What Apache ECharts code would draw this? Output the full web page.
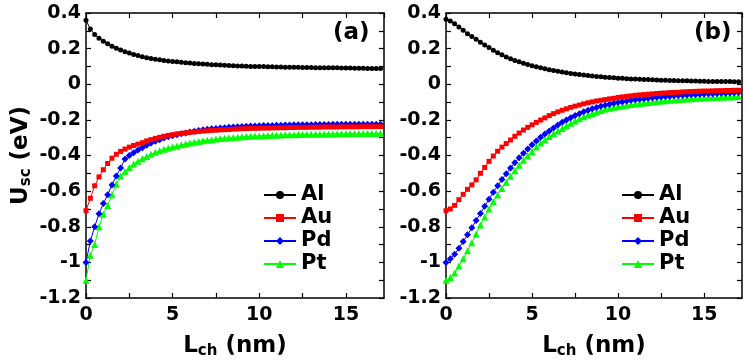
<!DOCTYPE html>
<html>
<head>
<meta charset="utf-8">
<script src="https://cdn.jsdelivr.net/npm/echarts@6/dist/echarts.min.js"></script>
<style>
  html, body { margin: 0; padding: 0; background: #fff; }
  #chart { width: 747px; height: 364px; }
</style>
</head>
<body>
<div id="chart"></div>
<script>
// channel length samples (nm)
const xs = [
  0, 0.25, 0.5, 0.75, 1, 1.25, 1.5, 1.75,
  2, 2.25, 2.5, 2.75, 3, 3.25, 3.5, 3.75,
  4, 4.25, 4.5, 4.75, 5, 5.25, 5.5, 5.75,
  6, 6.25, 6.5, 6.75, 7, 7.25, 7.5, 7.75,
  8, 8.25, 8.5, 8.75, 9, 9.25, 9.5, 9.75,
  10, 10.25, 10.5, 10.75, 11, 11.25, 11.5, 11.75,
  12, 12.25, 12.5, 12.75, 13, 13.25, 13.5, 13.75,
  14, 14.25, 14.5, 14.75, 15, 15.25, 15.5, 15.75,
  16, 16.25, 16.5, 16.75, 17
];

// panel (a)
const alA = [
  0.36, 0.31, 0.28, 0.258, 0.242, 0.227, 0.214, 0.202,
  0.192, 0.183, 0.175, 0.167, 0.161, 0.155, 0.149, 0.145,
  0.141, 0.137, 0.134, 0.131, 0.128, 0.126, 0.124, 0.121,
  0.119, 0.117, 0.115, 0.113, 0.112, 0.110, 0.109, 0.108,
  0.106, 0.105, 0.104, 0.103, 0.102, 0.101, 0.100, 0.100,
  0.099, 0.099, 0.098, 0.098, 0.097, 0.097, 0.096, 0.096,
  0.095, 0.095, 0.094, 0.094, 0.094, 0.093, 0.093, 0.093,
  0.092, 0.092, 0.092, 0.091, 0.091, 0.091, 0.090, 0.090,
  0.090, 0.089, 0.089, 0.089, 0.088
];
const auA = [
  -0.71, -0.64, -0.57, -0.52, -0.48, -0.445, -0.415, -0.393,
  -0.377, -0.364, -0.353, -0.344, -0.336, -0.328, -0.318, -0.311,
  -0.304, -0.298, -0.292, -0.287, -0.283, -0.279, -0.276, -0.273,
  -0.270, -0.268, -0.265, -0.263, -0.261, -0.259, -0.258, -0.256,
  -0.255, -0.254, -0.252, -0.251, -0.250, -0.249, -0.248, -0.248,
  -0.247, -0.246, -0.246, -0.245, -0.245, -0.244, -0.244, -0.243,
  -0.243, -0.242, -0.242, -0.242, -0.241, -0.241, -0.241, -0.240,
  -0.240, -0.240, -0.240, -0.239, -0.239, -0.239, -0.239, -0.239,
  -0.238, -0.238, -0.238, -0.238, -0.238
];
const pdA = [
  -1.0, -0.88, -0.80, -0.727, -0.67, -0.62, -0.565, -0.515,
  -0.47, -0.42, -0.40, -0.384, -0.369, -0.356, -0.343, -0.330,
  -0.320, -0.311, -0.302, -0.295, -0.289, -0.283, -0.278, -0.273,
  -0.268, -0.264, -0.260, -0.256, -0.253, -0.250, -0.248, -0.246,
  -0.244, -0.242, -0.240, -0.239, -0.237, -0.236, -0.235, -0.234,
  -0.233, -0.232, -0.232, -0.231, -0.230, -0.230, -0.229, -0.229,
  -0.228, -0.228, -0.227, -0.227, -0.227, -0.226, -0.226, -0.226,
  -0.226, -0.225, -0.225, -0.225, -0.225, -0.225, -0.224, -0.224,
  -0.224, -0.224, -0.224, -0.224, -0.224
];
const ptA = [
  -1.10, -0.96, -0.90, -0.80, -0.73, -0.68, -0.62, -0.56,
  -0.515, -0.49, -0.467, -0.448, -0.432, -0.418, -0.405, -0.393,
  -0.382, -0.373, -0.365, -0.358, -0.352, -0.346, -0.340, -0.335,
  -0.330, -0.325, -0.321, -0.317, -0.314, -0.311, -0.308, -0.305,
  -0.303, -0.301, -0.299, -0.297, -0.295, -0.294, -0.292, -0.291,
  -0.290, -0.289, -0.288, -0.287, -0.286, -0.285, -0.284, -0.284,
  -0.283, -0.282, -0.282, -0.281, -0.281, -0.280, -0.280, -0.279,
  -0.279, -0.279, -0.278, -0.278, -0.278, -0.277, -0.277, -0.277,
  -0.276, -0.276, -0.276, -0.276, -0.275
];

// panel (b)
const alB = [
  0.365, 0.355, 0.34, 0.322, 0.303, 0.284, 0.268, 0.252,
  0.236, 0.221, 0.206, 0.191, 0.177, 0.165, 0.153, 0.143,
  0.134, 0.126, 0.118, 0.111, 0.104, 0.098, 0.092, 0.087,
  0.082, 0.077, 0.073, 0.069, 0.065, 0.061, 0.058, 0.055,
  0.052, 0.049, 0.046, 0.044, 0.042, 0.040, 0.038, 0.036,
  0.034, 0.033, 0.031, 0.030, 0.029, 0.028, 0.027, 0.026,
  0.025, 0.024, 0.023, 0.022, 0.021, 0.021, 0.020, 0.019,
  0.019, 0.018, 0.018, 0.017, 0.017, 0.016, 0.016, 0.016,
  0.015, 0.015, 0.015, 0.014, 0.014
];
const auB = [
  -0.71, -0.70, -0.68, -0.648, -0.618, -0.59, -0.565, -0.537,
  -0.50, -0.467, -0.433, -0.403, -0.376, -0.353, -0.333, -0.313,
  -0.292, -0.274, -0.257, -0.242, -0.228, -0.214, -0.201, -0.189,
  -0.176, -0.165, -0.155, -0.146, -0.138, -0.130, -0.123, -0.117,
  -0.110, -0.104, -0.099, -0.094, -0.090, -0.086, -0.082, -0.079,
  -0.074, -0.071, -0.068, -0.065, -0.062, -0.060, -0.058, -0.056,
  -0.054, -0.052, -0.050, -0.049, -0.047, -0.046, -0.045, -0.043,
  -0.042, -0.041, -0.040, -0.039, -0.038, -0.038, -0.037, -0.036,
  -0.036, -0.035, -0.035, -0.034, -0.034
];
const pdB = [
  -1.0, -0.98, -0.955, -0.92, -0.883, -0.845, -0.805, -0.765,
  -0.725, -0.685, -0.645, -0.607, -0.57, -0.535, -0.502, -0.47,
  -0.44, -0.413, -0.387, -0.363, -0.339, -0.318, -0.297, -0.279,
  -0.262, -0.245, -0.229, -0.214, -0.200, -0.188, -0.176, -0.165,
  -0.155, -0.146, -0.138, -0.131, -0.124, -0.118, -0.112, -0.107,
  -0.102, -0.098, -0.094, -0.090, -0.087, -0.084, -0.081, -0.078,
  -0.076, -0.073, -0.071, -0.069, -0.067, -0.065, -0.063, -0.062,
  -0.060, -0.059, -0.057, -0.056, -0.055, -0.054, -0.053, -0.052,
  -0.051, -0.050, -0.049, -0.048, -0.047
];
const ptB = [
  -1.10, -1.085, -1.06, -1.02, -0.98, -0.935, -0.89, -0.84,
  -0.79, -0.745, -0.70, -0.66, -0.622, -0.585, -0.55, -0.517,
  -0.485, -0.455, -0.427, -0.401, -0.377, -0.352, -0.330, -0.311,
  -0.294, -0.278, -0.263, -0.249, -0.233, -0.219, -0.206, -0.194,
  -0.183, -0.173, -0.164, -0.156, -0.148, -0.141, -0.135, -0.129,
  -0.126, -0.122, -0.118, -0.114, -0.111, -0.108, -0.105, -0.102,
  -0.099, -0.097, -0.094, -0.092, -0.090, -0.088, -0.086, -0.084,
  -0.083, -0.081, -0.080, -0.078, -0.077, -0.076, -0.075, -0.074,
  -0.073, -0.072, -0.071, -0.070, -0.069
];

const metals = ['Al', 'Au', 'Pd', 'Pt'];
const colors = ['#000000', '#ff0000', '#0000ff', '#00ff00'];
const symbols = ['circle', 'rect', 'diamond', 'triangle'];
const symbolSizes = [5, 5, 7, 7];
const xTickLabels = ['0', '5', '10', '15'];
const yTickLabels = ['0.4', '0.2', '0', '-0.2', '-0.4', '-0.6', '-0.8', '-1', '-1.2'];

const FONT = 'DejaVu Sans';
const myChart = echarts.init(document.getElementById('chart'));

function pairs(ys) {
  return xs.map((x, i) => [x, ys[i]]);
}

// 标题里的下标
const nameRich = {
  m: { fontFamily: FONT, fontWeight: 'bold', fontSize: 23, lineHeight: 24, verticalAlign: 'top', color: '#000' },
  s: { fontFamily: FONT, fontWeight: 'bold', fontSize: 15, lineHeight: 15, padding: [14, 0, 0, 0], verticalAlign: 'bottom', color: '#000' }
};

function xAxisCfg(g, pos) {
  let bottom = pos === 'bottom';
  return {
    type: 'value', gridIndex: g, position: pos,
    min: 0, max: 17.2, interval: 2.5,
    axisLine: { show: true, onZero: false, lineStyle: { color: '#000', width: 1.5 } },
    axisTick: { show: true, inside: true, length: 5, lineStyle: { color: '#000', width: 1.2 } },
    splitLine: { show: false },
    axisLabel: {
      show: bottom, margin: 8, color: '#000',
      fontFamily: FONT, fontWeight: 'bold', fontSize: 19,
      showMaxLabel: false,
      formatter: v => xTickLabels.includes(String(v)) ? String(v) : ''
    },
    name: bottom ? '{m|L}{s|ch}{m| (nm)}' : '',
    nameLocation: 'middle', nameGap: 27,
    nameTextStyle: { rich: nameRich }
  };
}

function yAxisCfg(g, pos) {
  let left = pos === 'left';
  return {
    type: 'value', gridIndex: g, position: pos,
    min: -1.2, max: 0.4, interval: 0.1,
    axisLine: { show: true, onZero: false, lineStyle: { color: '#000', width: 1.5 } },
    axisTick: { show: true, inside: true, length: 5, lineStyle: { color: '#000', width: 1.2 } },
    splitLine: { show: false },
    axisLabel: {
      show: left, margin: 5, color: '#000',
      fontFamily: FONT, fontWeight: 'bold', fontSize: 19,
      formatter: v => {
        let s = String(Math.round(v * 10) / 10);
        return yTickLabels.includes(s) ? s : '';
      }
    },
    name: (left && g === 0) ? '{m|U}{s|sc}{m| (eV)}' : '',
    nameLocation: 'middle', nameGap: 52, nameRotate: 90,
    nameTextStyle: { rich: nameRich }
  };
}

function makeSeries(g, ysList) {
  return ysList.map((ys, k) => ({
    name: metals[k],
    type: 'line',
    xAxisIndex: g * 2,
    yAxisIndex: g * 2,
    data: pairs(ys),
    showSymbol: true,
    symbol: symbols[k],
    symbolSize: symbolSizes[k],
    itemStyle: { color: colors[k] },
    lineStyle: { color: colors[k], width: 1 },
    clip: true,
    z: 3 + (3 - k)
  }));
}

function legendCfg(left) {
  return {
    data: metals,
    orient: 'vertical',
    left: left, top: 179,
    itemWidth: 32, itemHeight: 10, itemGap: 1,
    textStyle: { fontFamily: FONT, fontWeight: 'bold', fontSize: 21, lineHeight: 22, color: '#000' },
    selectedMode: false
  };
}

let option = {
  animation: false,
  backgroundColor: '#fff',
  grid: [
    { left: 86, top: 13, width: 298, height: 285 },
    { left: 446, top: 13, width: 296, height: 285 }
  ],
  xAxis: [xAxisCfg(0, 'bottom'), xAxisCfg(0, 'top'), xAxisCfg(1, 'bottom'), xAxisCfg(1, 'top')],
  yAxis: [yAxisCfg(0, 'left'), yAxisCfg(0, 'right'), yAxisCfg(1, 'left'), yAxisCfg(1, 'right')],
  legend: [legendCfg(258), legendCfg(616)],
  graphic: [
    { type: 'text', left: 333, top: 22, style: { text: '(a)', font: 'bold 23px "DejaVu Sans"', fill: '#000' } },
    { type: 'text', left: 694, top: 22, style: { text: '(b)', font: 'bold 23px "DejaVu Sans"', fill: '#000' } }
  ],
  series: makeSeries(0, [alA, auA, pdA, ptA]).concat(makeSeries(1, [alB, auB, pdB, ptB]))
};
myChart.setOption(option);
</script>
</body>
</html>
